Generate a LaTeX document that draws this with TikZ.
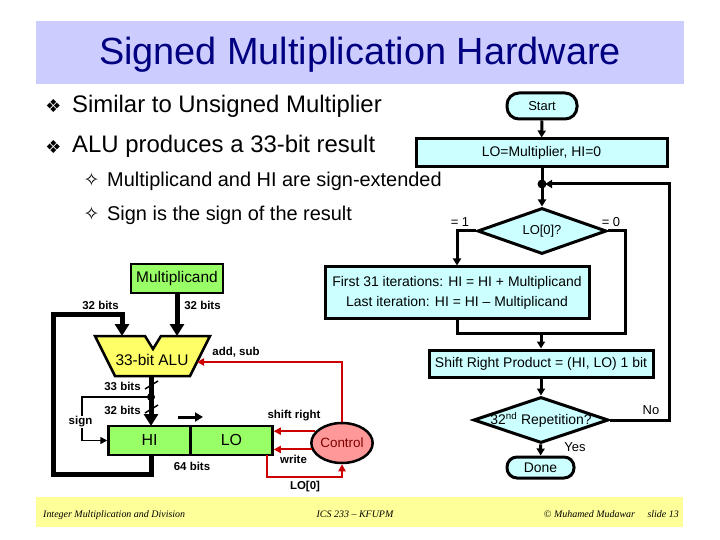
\documentclass[tikz,border=0pt]{standalone}
\usepackage{fontspec}
\setmainfont{Liberation Sans}
\newfontfamily\symfont{DejaVu Sans}
\newfontfamily\footfont{Liberation Serif}
\usetikzlibrary{arrows.meta,shapes.geometric}
\definecolor{titlebg}{RGB}{204,204,255}
\definecolor{navy}{RGB}{0,0,128}
\definecolor{flowfill}{RGB}{204,255,255}
\definecolor{regfill}{RGB}{153,255,102}
\definecolor{alufill}{RGB}{255,255,102}
\definecolor{ctrlfill}{RGB}{255,153,153}
\definecolor{ctrltext}{RGB}{128,0,0}
\definecolor{redline}{RGB}{204,0,0}
\definecolor{footbg}{RGB}{255,255,153}
\newcommand\fsz[1]{\fontsize{#1}{#1}\selectfont}
\tikzset{
 flowbox/.style={draw=black, line width=3bp, fill=flowfill, inner sep=0pt, font=\fsz{14}},
 decision/.style={diamond, draw=black, line width=3bp, fill=flowfill, inner sep=0pt},
 flowline/.style={line width=3bp, draw=black},
 flowarrow/.style={flowline, -{Triangle[length=7bp,width=8bp]}},
 reg/.style={draw=black, line width=2.5bp, fill=regfill, inner sep=0pt, font=\fsz{16}},
 busline/.style={line width=5bp},
 busarrow/.style={busline, -{Triangle[length=12bp,width=14bp]}},
 thinarrow/.style={line width=1.5bp, -{Triangle[length=7bp,width=7bp]}},
 redarrow/.style={draw=redline, line width=2bp, -{Triangle[length=7bp,width=7bp]}},
 blabel/.style={font=\bfseries\fsz{11.5}, inner sep=0pt},
 flabel/.style={font=\fsz{13}, inner sep=0pt},
 bodytext/.style={inner sep=0pt, anchor=base west},
 footer/.style={font=\footfont\itshape\fsz{10}, inner sep=0pt},
}
\begin{document}
\begin{tikzpicture}[x=1bp,y=-1bp]
\useasboundingbox (0,0) rectangle (720,540);
% title band
\fill[titlebg] (36,21) rectangle (684,84);
\node[inner sep=0pt, anchor=base, text=navy, font=\fsz{38}] (title) at (360,65) {Signed Multiplication Hardware};
% bullets
\node[inner sep=0pt, font=\symfont\fsz{18}] (b1) at (53.5,106) {❖};
\node[bodytext, font=\fsz{24}] (t1) at (72,113) {Similar to Unsigned Multiplier};
\node[inner sep=0pt, font=\symfont\fsz{18}] (b2) at (53.5,146.5) {❖};
\node[bodytext, font=\fsz{24}] (t2) at (72,153) {ALU produces a 33-bit result};
\node[inner sep=0pt, font=\symfont\fsz{19}] (b3) at (91.5,180) {✧};
\node[bodytext, font=\fsz{20}] (t3) at (107,187) {Multiplicand and HI are sign-extended};
\node[inner sep=0pt, font=\symfont\fsz{19}] (b4) at (91.5,214) {✧};
\node[bodytext, font=\fsz{20}] (t4) at (107,221) {Sign is the sign of the result};

% ---------- flowchart ----------
\node[flowbox, font=\fsz{13}, minimum width=70bp, minimum height=26bp, rounded corners=12bp] (start) at (542,106) {Start};
\node[flowbox, minimum width=251bp, minimum height=28bp] (init) at (541.5,153) {LO=Multiplier, HI=0};
\coordinate (j1) at (542,184);
\node[decision, minimum width=129bp, minimum height=46bp, label={[font=\fsz{13}]center:LO[0]?}] (lo0) at (542,231) {};
\node[flowbox, minimum width=264bp, minimum height=51bp, align=center, font=\fontsize{14}{20}\selectfont] (iter) at (457,292.5) {First 31 iterations: HI = HI + Multiplicand\\Last iteration: HI = HI -- Multiplicand};
\node[flowbox, minimum width=224bp, minimum height=27bp] (shift) at (541,363.5) {Shift Right Product = (HI, LO) 1 bit};
\node[decision, minimum width=135bp, minimum height=46bp, label={[font=\fsz{14}]center:32\textsuperscript{nd} Repetition?}] (rep) at (541,420) {};
\node[flowbox, font=\fsz{14}, minimum width=67bp, minimum height=21bp, rounded corners=10bp] (done) at (540.5,467.5) {Done};
\coordinate (mr) at (625,333);
\coordinate (ml) at (457,333);
\coordinate (mm) at (541,333);
\coordinate (loopc) at (669,184);

\draw[flowarrow] (start) -- (init);
\draw[flowline] (init.south -| j1) -- (j1);
\draw[flowarrow] (j1) -- (lo0.north);
\fill (j1) circle (4.5);
\draw[flowarrow] (lo0.west) -| (iter.north);
\draw[flowline] (lo0.east) -| (mr) -- (ml) -- (iter.south);
\draw[flowarrow] (mm) -- (shift.north);
\draw[flowarrow] (shift) -- (rep);
\draw[flowarrow] (rep) -- (done);
\draw[flowarrow, shorten >=3bp] (rep.east) -| (loopc) -- (j1);
\node[flabel] (l1) at (460,222) {= 1};
\node[flabel] (l0) at (611,222) {= 0};
\node[flabel] (lno) at (651,410) {No};
\node[flabel] (lyes) at (575,447) {Yes};

% ---------- datapath ----------
\node[reg, font=\fsz{15.5}, minimum width=92bp, minimum height=29bp] (mcand) at (177,278.5) {Multiplicand};
\draw[line width=2.5bp, fill=alufill] (95,336) -- (145,336) -- (153,349) -- (161,336) -- (210,336) -- (190,376) -- (115,376) -- cycle;
\node[inner sep=0pt, font=\fsz{15.5}] (alu) at (152,360) {33-bit ALU};
\coordinate (aluinL) at (122,336);
\coordinate (aluinR) at (177,336);
\coordinate (aluout) at (151,376);
\coordinate (aluctl) at (197,362);
\node[reg, minimum width=82bp, minimum height=29bp] (hi) at (149.5,440.5) {HI};
\node[reg, minimum width=82bp, minimum height=29bp] (lo) at (231.5,440.5) {LO};
\coordinate (hitop) at (151,426);
\coordinate (hibot) at (151,455);
\coordinate (aludot) at (151,397);
\coordinate (loopBL) at (53,474);
\coordinate (loopTR) at (122,314);
\coordinate (signL) at (82,397);
\node[draw=black, line width=2.5bp, fill=ctrlfill, ellipse, minimum width=61bp, minimum height=40bp, inner sep=0pt, text=ctrltext, font=\fsz{13.5}] (ctrl) at (342,443) {Control};
\coordinate (ctrltop) at (342,362);
\coordinate (lo0out) at (267,455);
\coordinate (lor) at (342,477);

\draw[busarrow] (mcand) -- (aluinR);
\draw[busarrow] (hibot) |- (loopBL) |- (loopTR) -- (aluinL);
\draw[busarrow] (aluout) -- (hitop);
\fill (aludot) circle (4);
\draw[line width=1.5bp] (145,389) -- (158,381);
\draw[line width=1.5bp] (145,413) -- (158,405);
\draw[thinarrow] (aludot) -- (signL) |- (hi.west);
\draw[line width=3bp, -{Triangle[length=8bp,width=9bp]}] (178,417) -- (203,417);

\draw[redarrow] (ctrl.north) -- (ctrltop) -- (aluctl);
\draw[redarrow] (ctrl.156) -- (ctrl.156 -| lo.east);
\draw[redarrow] (ctrl.192) -- (ctrl.192 -| lo.east);
\draw[redarrow] (lo0out) |- (lor) -- (ctrl.south);

\node[blabel] (m32l) at (100.5,305) {32 bits};
\node[blabel] (m32r) at (202.5,305) {32 bits};
\node[blabel] (addsub) at (236,352) {add, sub};
\node[blabel] (b33) at (122.5,386) {33 bits};
\node[blabel] (b32) at (122.5,410.5) {32 bits};
\node[blabel, fill=white, inner sep=1bp] (sign) at (80.5,422) {sign};
\node[blabel] (b64) at (192,466) {64 bits};
\node[blabel] (shr) at (294,416) {shift right};
\node[blabel] (wr) at (293.5,459) {write};
\node[blabel] (lo0lab) at (305,487) {LO[0]};

% footer
\fill[footbg] (36,497) rectangle (683,527);
\node[footer, anchor=base west] (f1) at (43,517) {Integer Multiplication and Division};
\node[footer, anchor=base] (f2) at (355,517) {ICS 233 – KFUPM};
\node[footer, anchor=base east] (f3) at (679,517) {© Muhamed Mudawar \quad slide 13};
\end{tikzpicture}
\end{document}
